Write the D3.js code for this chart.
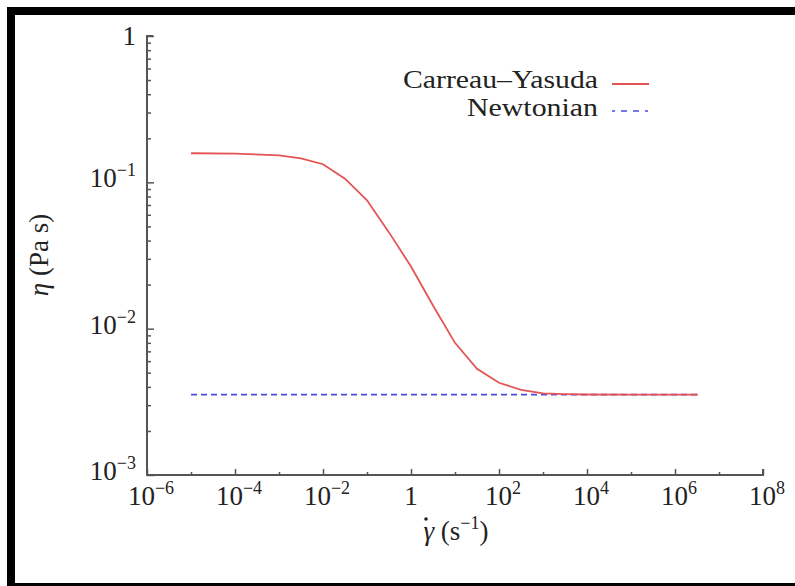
<!DOCTYPE html>
<html>
<head>
<meta charset="utf-8">
<script src="https://cdn.jsdelivr.net/npm/d3@7"></script>
<style>
  html, body { margin: 0; padding: 0; background: #fff; }
  svg { display: block; }
</style>
</head>
<body>
<svg id="chart" width="795" height="586"></svg>
<script>
// ---- data ----
const shearRate = [1e-5, 1e-4, 1e-3, 3.16e-3, 1e-2, 3.16e-2, 1e-1, 3.16e-1, 1, 3.16, 10, 31.6, 100, 316, 1e3, 3.16e3, 1e4, 1e5, 1e6, 3.3e6];
const carreauYasuda = [0.158, 0.157, 0.153, 0.146, 0.133, 0.106, 0.0753, 0.0455, 0.0266, 0.0144, 0.0080, 0.00532, 0.00427, 0.00382, 0.00361, 0.00357, 0.00355, 0.00354, 0.00354, 0.00354];
const newtonianRate = [1e-5, 3.3e6];
const newtonian = [0.00354, 0.00354];
const xTickValues = [1e-6, 1e-4, 1e-2, 1, 1e2, 1e4, 1e6, 1e8];
const xTickExp = ["\u22126", "\u22124", "\u22122", "", "2", "4", "6", "8"];
const xMinorTicks = [1e-5, 1e-3, 1e-1, 1e1, 1e3, 1e5, 1e7];
const yTickValues = [1e-3, 1e-2, 1e-1, 1];
const yTickExp = ["\u22123", "\u22122", "\u22121", ""];
const seriesNames = ["Carreau\u2013Yasuda", "Newtonian"];

// ---- layout ----
const FONT = "'Liberation Serif', 'Times New Roman', 'DejaVu Serif', serif";
const FS = 27, SUP = 18;
const svg = d3.select("#chart").attr("font-family", FONT);
const x0 = 147, x1 = 763, yTop = 36, yBot = 475;
const x = d3.scaleLog().domain([1e-6, 1e8]).range([x0, x1]);
const y = d3.scaleLog().domain([1e-3, 1]).range([yBot, yTop]);

// frame
svg.append("rect").attr("x", 7).attr("y", 7).attr("width", 788).attr("height", 8).attr("fill", "#000");
svg.append("rect").attr("x", 7).attr("y", 7).attr("width", 8).attr("height", 579).attr("fill", "#000");
svg.append("rect").attr("x", 7).attr("y", 583).attr("width", 788).attr("height", 3).attr("fill", "#000");

const axisColor = "#555";

// y axis
const yMinor = [];
for (let e = -3; e < 0; e++) for (let m = 2; m <= 9; m++) yMinor.push(m * Math.pow(10, e));
const ga = svg.append("g").attr("transform", `translate(${x0},0)`)
  .call(d3.axisRight(y).tickValues(yTickValues).tickSize(7).tickFormat(""));
ga.select(".domain").remove();
ga.selectAll("line").attr("stroke", axisColor).attr("stroke-width", 1.5);
const gm = svg.append("g").attr("transform", `translate(${x0},0)`)
  .call(d3.axisRight(y).tickValues(yMinor).tickSize(4).tickFormat(""));
gm.select(".domain").remove();
gm.selectAll("line").attr("stroke", axisColor).attr("stroke-width", 1.5);

// x axis
const gx = svg.append("g").attr("transform", `translate(0,${yBot})`)
  .call(d3.axisTop(x).tickValues(xTickValues).tickSize(6).tickFormat(""));
gx.select(".domain").remove();
gx.selectAll("line").attr("stroke", axisColor).attr("stroke-width", 1.5);
const gxm = svg.append("g").attr("transform", `translate(0,${yBot})`)
  .call(d3.axisTop(x).tickValues(xMinorTicks).tickSize(3).tickFormat(""));
gxm.select(".domain").remove();
gxm.selectAll("line").attr("stroke", axisColor).attr("stroke-width", 1.5);

// axis lines
svg.append("path")
  .attr("d", `M${x0 + 6},${yTop}H${x0}V${yBot}H${x1}V${yBot - 6}`)
  .attr("fill", "none").attr("stroke", axisColor).attr("stroke-width", 2);

// tick labels
function powLabel(sel, exp) {
  if (exp === "") { sel.append("tspan").text("1"); return; }
  sel.append("tspan").text("10");
  sel.append("tspan").attr("dy", -11).attr("font-size", SUP).text(exp);
}
yTickValues.forEach((v, i) => {
  const t = svg.append("text").attr("x", 136).attr("y", y(v) + (yTickExp[i] === "" ? 9 : 5))
    .attr("text-anchor", "end").attr("font-size", FS).attr("fill", "#222");
  powLabel(t, yTickExp[i]);
});
xTickValues.forEach((v, i) => {
  const t = svg.append("text").attr("x", x(v) + (xTickExp[i] === "" ? 0 : 4)).attr("y", 505)
    .attr("text-anchor", "middle").attr("font-size", FS).attr("fill", "#222");
  powLabel(t, xTickExp[i]);
});

// axis titles
const xt = svg.append("text").attr("x", 456).attr("y", 540).attr("text-anchor", "middle")
  .attr("font-size", FS).attr("fill", "#222");
xt.append("tspan").attr("font-style", "italic").text("\u03B3");
xt.append("tspan").text(" (s");
xt.append("tspan").attr("dy", -11).attr("font-size", SUP).text("\u22121");
xt.append("tspan").attr("dy", 11).text(")");
// dot over gamma
svg.append("circle").attr("cx", 426).attr("cy", 519).attr("r", 1.8).attr("fill", "#222");

const yt = svg.append("text").attr("transform", `translate(48,255) rotate(-90)`).attr("text-anchor", "middle")
  .attr("font-size", FS).attr("fill", "#222");
yt.append("tspan").attr("font-style", "italic").text("\u03B7");
yt.append("tspan").text(" (Pa s)");

// series
const line = d3.line().x(d => x(d[0])).y(d => y(d[1]));
svg.append("path").datum(newtonianRate.map((r, i) => [r, newtonian[i]]))
  .attr("d", line).attr("fill", "none").attr("stroke", "#4b4be6").attr("stroke-width", 1.6)
  .attr("stroke-dasharray", "6,4");
svg.append("path").datum(shearRate.map((r, i) => [r, carreauYasuda[i]]))
  .attr("d", line).attr("fill", "none").attr("stroke", "#e35555").attr("stroke-width", 1.8);

// legend
const lg = svg.append("g");
const LFS = 25;
lg.append("text").attr("x", 403).attr("y", 88).attr("font-size", LFS)
  .attr("textLength", 195).attr("lengthAdjust", "spacingAndGlyphs")
  .attr("fill", "#222").text(seriesNames[0]);
lg.append("text").attr("x", 467).attr("y", 116).attr("font-size", LFS)
  .attr("textLength", 131).attr("lengthAdjust", "spacingAndGlyphs")
  .attr("fill", "#222").text(seriesNames[1]);
lg.append("line").attr("x1", 612).attr("x2", 649).attr("y1", 84).attr("y2", 84)
  .attr("stroke", "#e35555").attr("stroke-width", 1.8);
lg.append("line").attr("x1", 612).attr("x2", 649).attr("y1", 111).attr("y2", 111)
  .attr("stroke", "#4b4be6").attr("stroke-width", 1.6).attr("stroke-dasharray", "3,6,6,6,6,6,3");
</script>
</body>
</html>
